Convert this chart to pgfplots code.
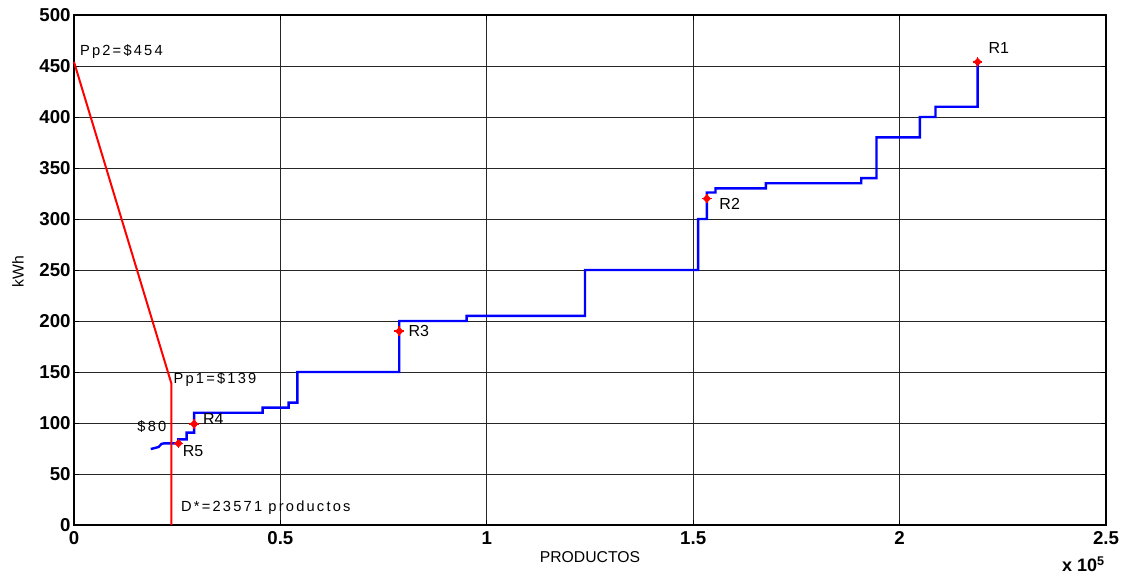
\documentclass[border=0pt]{standalone}
\usepackage{fontspec}
\setmainfont{Liberation Sans}
\newfontfamily\spaced[LetterSpace=15]{Liberation Sans}
\usepackage{pgfplots}
\pgfplotsset{compat=1.18}
\usetikzlibrary{calc}
\begin{document}
\begin{tikzpicture}
\begin{axis}[
  scale only axis,
  width=774pt, height=382.5pt,
  xmin=0, xmax=2.5, ymin=0, ymax=500,
  xtick={0,0.5,1,1.5,2,2.5},
  xticklabels={0,0.5,1,1.5,2,2.5},
  ytick={0,50,100,150,200,250,300,350,400,450,500},
  yticklabels={0,50,100,150,200,250,300,350,400,450,500},
  /pgf/number format/assume math mode=true,
  tick label style={font=\fontsize{14}{15}\selectfont\bfseries},
  xticklabel style={yshift=-1.5pt},
  yticklabel style={xshift=1pt},
  tick align=inside,
  major tick length=4pt,
  grid=major,
  major grid style={black!85, line width=0.6pt},
  axis line style={black, line width=0.8pt},
  every tick/.style={black, line width=0.6pt},
  xlabel={PRODUCTOS},
  ylabel={kWh},
  label style={font=\fontsize{11.8}{12}\selectfont},
  xlabel style={at={(axis description cs:0.5,-0.0622)}, anchor=center},
  ylabel style={at={(axis description cs:-0.0543,0.497)}, anchor=center},
  clip=false,
]
\addplot[blue, line width=1.8pt] coordinates {
(0.186,74.5) (0.196,75.5) (0.205,76.5) (0.212,79.5) (0.218,80) (0.253,80)
(0.253,84) (0.273,84) (0.273,90.5) (0.291,90.5) (0.291,110) (0.457,110)
(0.457,115) (0.52,115) (0.52,120) (0.541,120) (0.541,150) (0.788,150)
(0.788,200) (0.951,200) (0.951,205) (1.238,205) (1.238,250) (1.512,250)
(1.512,300) (1.533,300) (1.533,326) (1.554,326) (1.554,330) (1.676,330)
(1.676,335) (1.907,335) (1.907,340) (1.944,340) (1.944,380) (2.049,380)
(2.049,400) (2.087,400) (2.087,410) (2.189,410) (2.189,454)
};
\addplot[red, line width=1.5pt] coordinates {(0,454) (0.2357,139) (0.2357,0)};
\addplot[only marks, red, mark=+, mark size=3.6pt, line width=1.3pt] coordinates {
(2.189,454) (1.533,320) (0.788,190) (0.291,99) (0.253,80)
};
\addplot[only marks, red, mark=square*, mark size=2pt, mark options={rotate=45}] coordinates {
(2.189,454) (1.533,320) (0.788,190) (0.291,99) (0.253,80)
};
\node[anchor=west, inner sep=0pt, font=\fontsize{11}{12}\selectfont\spaced] at (axis cs:0.014,464) {Pp2=\$454};
\node[anchor=west, inner sep=0pt, font=\fontsize{11}{12}\selectfont\spaced] at (axis cs:0.2406,143) {Pp1=\$139};
\node[anchor=west, inner sep=0pt, font=\fontsize{11}{12}\selectfont\spaced] at (axis cs:0.153,96.4) {\$80};
\node[anchor=west, inner sep=0pt, font=\fontsize{11}{12}\selectfont\spaced] at (axis cs:0.259,17) {D*=23571 productos};
\node[anchor=west, inner sep=0pt, font=\fontsize{12}{13}\selectfont] at (axis cs:0.312,103.6) {R4};
\node[anchor=west, inner sep=0pt, font=\fontsize{12}{13}\selectfont] at (axis cs:0.263,72.9) {R5};
\node[anchor=west, inner sep=0pt, font=\fontsize{12}{13}\selectfont] at (axis cs:0.81,190) {R3};
\node[anchor=west, inner sep=0pt, font=\fontsize{12}{13}\selectfont] at (axis cs:1.563,315) {R2};
\node[anchor=west, inner sep=0pt, font=\fontsize{12}{13}\selectfont] at (axis cs:2.215,468) {R1};
\node[anchor=base east, inner sep=0pt, font=\fontsize{13.5}{14}\selectfont\bfseries] at ($(rel axis cs:1,0)+(-0.75pt,-35.25pt)$) {x 10\textsuperscript{5}};
\end{axis}
\pgfresetboundingbox
\path[use as bounding box] ($(current axis.south west)+(-55.5pt,-39pt)$) rectangle ($(current axis.north east)+(24.75pt,11.25pt)$);
\end{tikzpicture}
\end{document}
